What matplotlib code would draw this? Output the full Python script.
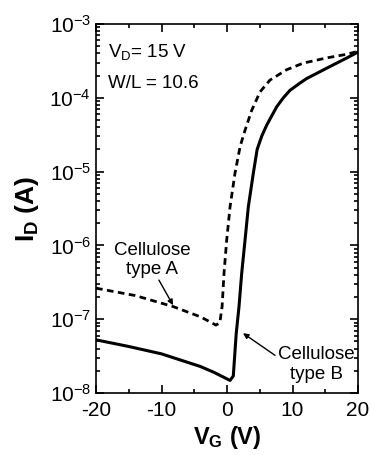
import matplotlib
matplotlib.use("Agg")
import matplotlib.pyplot as plt
from matplotlib.ticker import MultipleLocator, LogLocator
import numpy as np

plt.rcParams['font.family'] = ['Liberation Sans', 'DejaVu Sans']
plt.rcParams['mathtext.fontset'] = 'custom'
plt.rcParams['mathtext.rm'] = 'Liberation Sans'
plt.rcParams['mathtext.it'] = 'Liberation Sans'
plt.rcParams['mathtext.bf'] = 'Liberation Sans:bold'
plt.rcParams['axes.unicode_minus'] = False

# type A (dashed): gate voltage and log10 of drain current
vg_a = [-20, -14, -8.2, -4, -1.7, -1.1, -0.75, -0.46, -0.05, 0.46, 1.22, 2.0, 2.75,
        3.77, 5.04, 6.56, 9.1, 11.65, 15.2, 18.3, 20]
log_a = [-6.58, -6.68, -6.83, -6.97, -7.08, -7.05, -6.83, -6.38, -5.93, -5.48, -5.02, -4.66, -4.44,
         -4.17, -3.92, -3.76, -3.62, -3.53, -3.46, -3.41, -3.37]
# type B (solid)
vg_b = [-20, -15, -10, -4.1, -2, 0.46, 0.96, 1.4, 1.83, 2.24, 2.75, 3.25, 4.02, 4.6,
        5.3, 6.06, 7.6, 8.6, 9.6, 11.15, 12.15, 15.2, 18.3, 20]
log_b = [-7.28, -7.37, -7.47, -7.64, -7.72, -7.83, -7.77, -7.2, -6.83, -6.38, -5.93, -5.48, -5.02, -4.7,
         -4.52, -4.37, -4.12, -4.0, -3.9, -3.8, -3.74, -3.6, -3.46, -3.38]

ia = 10 ** np.array(log_a)
ib = 10 ** np.array(log_b)

fig = plt.figure(figsize=(3.71, 4.55), dpi=100)
ax = fig.add_axes([0.2588, 0.1363, 0.7062, 0.811])

ax.plot(vg_a, ia, color='black', lw=2.0, ls=(0, (2.4, 1.6)))
ax.plot(vg_b, ib, color='black', lw=2.2)

ax.set_yscale('log')
ax.set_xlim(-20, 20)
ax.set_ylim(1e-8, 1e-3)
ax.xaxis.set_major_locator(MultipleLocator(10))
ax.xaxis.set_minor_locator(MultipleLocator(5))
ax.yaxis.set_major_locator(LogLocator(base=10, numticks=10))
ax.yaxis.set_minor_locator(LogLocator(base=10, subs=np.arange(2, 10), numticks=20))
ax.tick_params(which='both', direction='in', top=True, right=True, labelsize=15, width=1.2)
ax.tick_params(which='major', length=6)
ax.tick_params(which='minor', length=3)
ax.tick_params(axis='x', pad=6)
for s in ax.spines.values():
    s.set_linewidth(1.2)

ax.set_xlabel(r'V$_\mathbf{G}$ (V)', fontsize=17, fontweight='bold', labelpad=3)
ax.set_ylabel(r'I$_\mathbf{D}$ (A)', fontsize=19, fontweight='bold', labelpad=6)

ax.text(0.045, 0.911, r'V$_\mathrm{D}$= 15 V', transform=ax.transAxes, fontsize=13.5, va='baseline')
ax.text(0.045, 0.827, 'W/L = 10.6', transform=ax.transAxes, fontsize=13.5, va='baseline')

ax.text(-11.45, 10 ** -6.2, 'Cellulose\ntype A', fontsize=13.5, ha='center', va='center', linespacing=1.1)
ax.annotate('', xy=(-8.24, 10 ** -6.81), xytext=(-10.4, 10 ** -6.47),
            arrowprops=dict(arrowstyle='-|>', color='black', lw=1.0, mutation_scale=8, shrinkA=0, shrinkB=0))
ax.text(13.6, 10 ** -7.61, 'Cellulose\ntype B', fontsize=13.5, ha='center', va='center', linespacing=1.2)
ax.annotate('', xy=(2.44, 10 ** -7.19), xytext=(7.33, 10 ** -7.49),
            arrowprops=dict(arrowstyle='-|>', color='black', lw=1.0, mutation_scale=8, shrinkA=0, shrinkB=0))

plt.savefig('out.png', dpi=100)
